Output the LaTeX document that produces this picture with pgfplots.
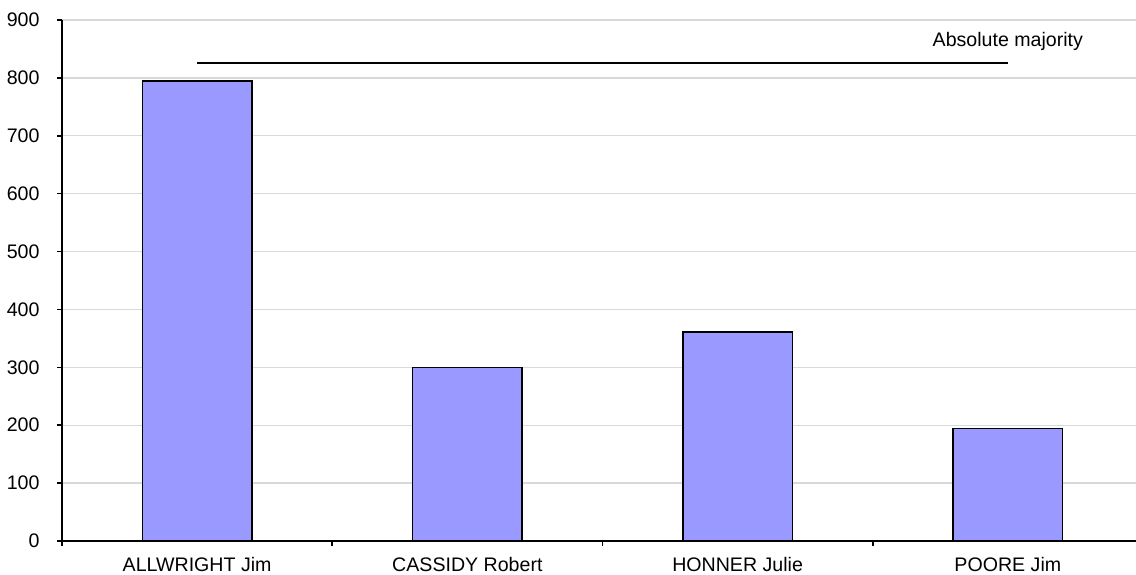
\documentclass[border=0pt]{standalone}
\usepackage{pgfplots}
\pgfplotsset{compat=1.18}
\usepackage{fontspec}
\setmainfont{Liberation Sans}
\definecolor{barfill}{HTML}{9999FF}
\definecolor{gridc}{HTML}{D9D9D9}
\begin{document}
\begin{tikzpicture}[font=\fontsize{19.6bp}{23bp}\selectfont]
\begin{axis}[
  scale only axis,
  width=1081bp, height=521bp,
  xmin=-0.5, xmax=3.5,
  ymin=0, ymax=900,
  ytick={0,100,...,900},
  axis lines*=left,
  axis line style={black, line width=1.6bp},
  xtick={-0.5,0.5,1.5,2.5,3.5},
  xticklabels={},
  extra x ticks={0,1,2,3},
  extra x tick labels={ALLWRIGHT Jim,CASSIDY Robert,HONNER Julie,POORE Jim},
  extra x tick style={major tick length=0pt, grid=none},
  xticklabel style={yshift=-13bp},
  yticklabel style={xshift=-14bp},
  tick align=outside,
  major tick length=5bp,
  tick style={black, line width=1.6bp},
  ymajorgrids,
  grid style={gridc, line width=1.4bp},
  /pgf/number format/assume math mode=true,
  clip=false,
]
\addplot[ybar, bar width=0.405, fill=barfill, draw=black, line width=1.6bp] coordinates {(0,795) (1,300) (2,361) (3,194)};
\addplot[sharp plot, black, line width=1.6bp, mark=none] coordinates {(0,826) (3,826)}
  node[pos=1, anchor=base, yshift=16.5bp] {Absolute majority};
\end{axis}
\pgfresetboundingbox
\path ([shift={(-62bp,-34bp)}]current axis.south west) rectangle ++(1136bp,575bp);
\end{tikzpicture}
\end{document}
